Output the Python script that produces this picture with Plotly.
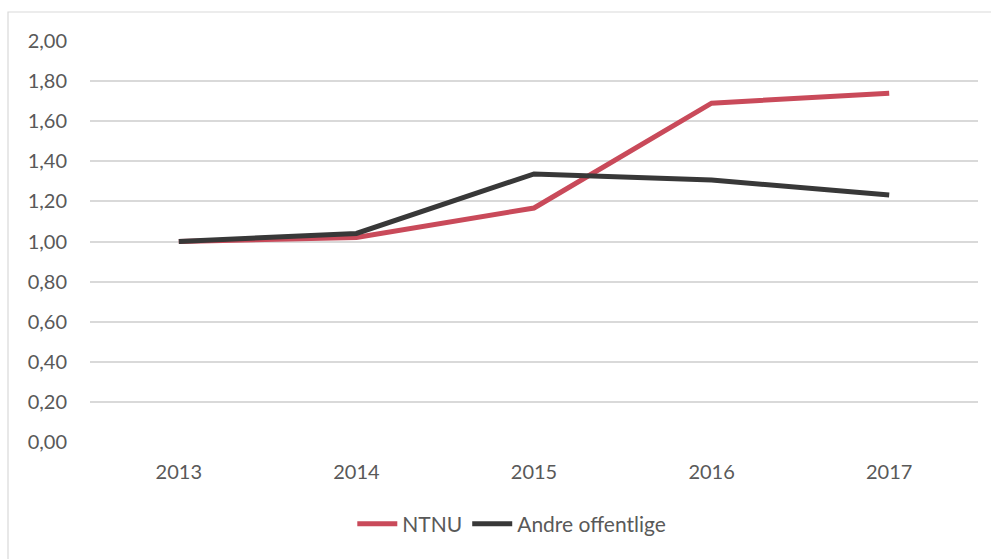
import plotly.graph_objects as go

years = ["2013", "2014", "2015", "2016", "2017"]
ntnu = [1.00, 1.02, 1.167, 1.69, 1.74]
andre = [1.00, 1.04, 1.337, 1.307, 1.232]
y_ticks = [0.0, 0.2, 0.4, 0.6, 0.8, 1.0, 1.2, 1.4, 1.6, 1.8, 2.0]

font_family = "Lato, Open Sans, sans-serif"
text_color = "#595959"

fig = go.Figure()
fig.add_trace(go.Scatter(x=years, y=ntnu, mode="lines", name="NTNU",
                         line=dict(color="#c94a5a", width=5)))
fig.add_trace(go.Scatter(x=years, y=andre, mode="lines", name="Andre offentlige",
                         line=dict(color="#383838", width=5)))

fig.update_layout(
    width=991, height=559,
    margin=dict(l=90, r=13, t=41, b=117),
    paper_bgcolor="white", plot_bgcolor="white",
    separators=", ",
    font=dict(family=font_family, size=20, color=text_color),
    showlegend=True,
    legend=dict(orientation="h", x=0.475, xanchor="center", y=-0.205, yanchor="middle",
                font=dict(size=21, color=text_color), itemwidth=40,
                traceorder="normal"),
    xaxis=dict(type="category", range=[-0.5, 4.5], showgrid=False, zeroline=False,
               showline=False, ticks="", ticklabelstandoff=16,
               tickfont=dict(size=20, color=text_color)),
    yaxis=dict(range=[0, 2.0], tickvals=y_ticks, tickformat=".2f",
               showgrid=True, gridcolor="#d9d9d9", gridwidth=1.5,
               zeroline=False, showline=False, ticks="", ticklabelstandoff=22,
               tickfont=dict(size=20, color=text_color)),
    shapes=[dict(type="rect", xref="paper", yref="paper",
                 x0=(8 - 90) / 888, x1=1.1, y0=-0.5, y1=(442 - 12) / 401,
                 line=dict(color="#d9d9d9", width=1.2), fillcolor="rgba(0,0,0,0)",
                 layer="below")],
)

fig.write_html("out.html", config={"displayModeBar": False},
               post_script="document.body.style.margin='0';document.body.style.overflow='hidden';")
